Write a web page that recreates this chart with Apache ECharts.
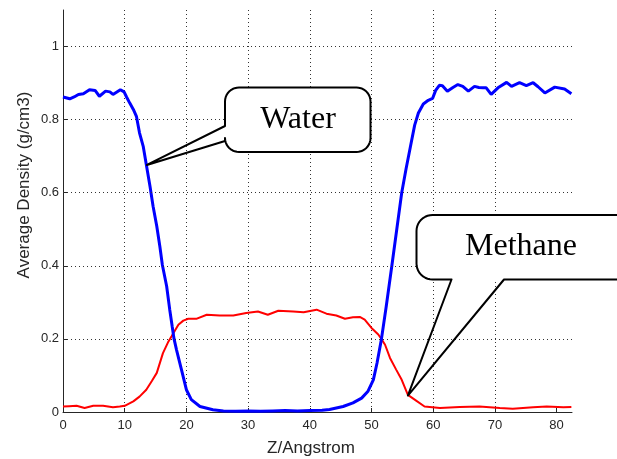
<!DOCTYPE html>
<html>
<head>
<meta charset="utf-8">
<script src="https://cdn.jsdelivr.net/npm/echarts@6/dist/echarts.min.js"></script>
<style>html,body{margin:0;padding:0;background:#fff;}#c{width:617px;height:459px;}</style>
</head>
<body>
<div id="c"></div>
<script>
// ---- data ----
const waterX = [0,0.3,1.1,1.8,2.5,3.3,4.3,5.2,5.9,6.9,7.6,8.1,9.3,9.9,10.3,10.8,11.4,11.9,12.4,13.0,13.5,14.1,14.6,15.2,15.7,16.1,16.8,17.3,17.7,18.0,18.4,19.2,20.0,20.8,22.2,24.3,26,28,30,32,34,36,38,40,42,43.2,45.4,47.0,48.4,49.4,50.3,50.9,51.6,52.4,53.3,54.1,54.9,55.6,56.3,57.0,57.6,58.4,59.2,59.9,60.4,61.0,61.5,62.3,63.2,64.0,64.8,65.7,66.7,67.4,68.1,68.6,69.4,70.5,71.9,72.7,74.0,75.1,76.2,77.0,78.1,79.7,81.3,82.4];
const waterY = [0.862,0.864,0.857,0.862,0.869,0.871,0.882,0.880,0.864,0.878,0.876,0.869,0.882,0.876,0.862,0.846,0.828,0.809,0.764,0.727,0.677,0.618,0.563,0.508,0.453,0.403,0.344,0.280,0.234,0.200,0.170,0.116,0.061,0.034,0.015,0.006,0.003,0.002,0.003,0.002,0.003,0.004,0.003,0.004,0.005,0.007,0.015,0.025,0.038,0.056,0.088,0.134,0.198,0.290,0.400,0.500,0.600,0.665,0.725,0.785,0.818,0.843,0.853,0.858,0.880,0.894,0.893,0.878,0.888,0.896,0.891,0.878,0.891,0.888,0.887,0.887,0.869,0.887,0.902,0.891,0.901,0.893,0.901,0.890,0.873,0.889,0.884,0.871];
const methaneX = [0,1,2.2,3.5,4.9,6.5,8.1,9.2,10.0,11.4,12.4,13.5,14.4,15.2,16.2,17.0,17.6,18.7,19.5,20.3,21.6,23.3,25.4,27.6,29.7,31.6,33.2,34.9,37.3,39.0,41.1,42.7,44.3,45.7,47.0,48.1,48.9,50.0,51.1,51.6,52.2,53.0,54.0,54.9,55.9,57.0,58.6,61.1,64.3,67.5,70.8,72.9,76.2,78.4,81.1,82.4];
const methaneY = [0.015,0.016,0.017,0.011,0.017,0.017,0.013,0.015,0.017,0.029,0.042,0.061,0.085,0.107,0.161,0.190,0.207,0.239,0.250,0.255,0.255,0.266,0.264,0.264,0.271,0.275,0.266,0.277,0.275,0.273,0.280,0.269,0.264,0.255,0.259,0.260,0.253,0.230,0.212,0.200,0.184,0.148,0.116,0.088,0.047,0.034,0.015,0.011,0.014,0.015,0.011,0.009,0.013,0.015,0.013,0.014];
const xTicks = [0,10,20,30,40,50,60,70,80];
const yTicks = [0,0.2,0.4,0.6,0.8,1];
const xName = 'Z/Angstrom';
const yName = 'Average Density (g/cm3)';
const waterLabel = 'Water';
const methaneLabel = 'Methane';
const waterTip = [13.6, 0.676];
const methaneTip = [55.9, 0.045];

const zip = (xs, ys) => xs.map((x, i) => [x, ys[i]]);
const chart = echarts.init(document.getElementById('c'), null, {renderer: 'canvas'});
const axisCol = '#262626';
const lab = {color: '#262626', fontSize: 13, fontFamily: 'Liberation Sans, Arial, sans-serif'};
chart.setOption({
  animation: false,
  backgroundColor: '#fff',
  grid: {left: 63, top: 10, right: 45, bottom: 47, containLabel: false},
  xAxis: {
    type: 'value', min: 0, max: 82.5, interval: 10,
    axisLine: {show: true, lineStyle: {color: axisCol, width: 1}},
    axisTick: {show: true, inside: true, length: 4, customValues: xTicks, lineStyle: {color: axisCol}},
    axisLabel: Object.assign({margin: 7, customValues: xTicks}, lab),
    splitLine: {show: true, showMinLine: false, showMaxLine: false, lineStyle: {color: '#333', type: [1, 3], width: 1}}
  },
  yAxis: {
    type: 'value', min: 0, max: 1.1, interval: 0.1,
    axisLine: {show: true, lineStyle: {color: axisCol, width: 1}},
    axisTick: {show: true, inside: true, length: 4, customValues: yTicks, lineStyle: {color: axisCol}},
    axisLabel: Object.assign({margin: 4, customValues: yTicks}, lab),
    splitLine: {show: false}
  },
  series: [
    {type: 'line', name: 'Water', data: zip(waterX, waterY), showSymbol: false, symbol: 'none',
     lineStyle: {color: '#0000ff', width: 3}, itemStyle: {color: '#0000ff'}, z: 3},
    {type: 'line', name: 'Methane', data: zip(methaneX, methaneY), showSymbol: false, symbol: 'none',
     lineStyle: {color: '#ff0000', width: 2}, itemStyle: {color: '#ff0000'}, z: 2},
    // horizontal dotted grid lines at the labelled y ticks
    {type: 'line', data: [], markLine: {silent: true, symbol: 'none', label: {show: false},
      lineStyle: {color: '#333', type: [1, 3], width: 1},
      data: yTicks.filter(v => v > 0).map(v => ({yAxis: v}))}, z: 1}
  ]
});

// ---- callouts ----
function callout(x0, y0, x1, y1, r, tip, leftWedge, bottomWedge) {
  const pts = [];
  const arc = (cx, cy, a0, a1) => {
    for (let i = 0; i <= 10; i++) {
      const a = (a0 + (a1 - a0) * i / 10) * Math.PI / 180;
      pts.push([cx + r * Math.cos(a), cy + r * Math.sin(a)]);
    }
  };
  arc(x0 + r, y0 + r, 180, 270);
  arc(x1 - r, y0 + r, 270, 360);
  arc(x1 - r, y1 - r, 0, 90);
  if (bottomWedge) { pts.push([bottomWedge[1], y1], tip, [bottomWedge[0], y1]); }
  arc(x0 + r, y1 - r, 90, 180);
  if (leftWedge) { pts.push([x0, leftWedge[1]], tip, [x0, leftWedge[0]]); }
  return [
    {type: 'rect', z: 100, shape: {x: x0, y: y0, width: x1 - x0, height: y1 - y0, r: r}, style: {fill: '#fff', stroke: null}},
    {type: 'polygon', z: 101, shape: {points: pts}, style: {fill: null, stroke: '#000', lineWidth: 2, lineJoin: 'round'}}
  ];
}
const wt = chart.convertToPixel({gridIndex: 0}, waterTip);
const mt = chart.convertToPixel({gridIndex: 0}, methaneTip);
const els = [];
els.push(...callout(225, 87.5, 370.5, 152, 14, wt, [126, 141], null));
els.push(...callout(416.5, 215, 660, 279.5, 16, mt, null, [451.5, 504]));
els.push({type: 'text', z: 102, x: 298, y: 120, style: {text: waterLabel, fill: '#000', fontSize: 32, fontFamily: 'Liberation Serif, Times New Roman, serif', align: 'center', verticalAlign: 'middle'}});
els.push({type: 'text', z: 102, x: 521, y: 247, style: {text: methaneLabel, fill: '#000', fontSize: 32, fontFamily: 'Liberation Serif, Times New Roman, serif', align: 'center', verticalAlign: 'middle'}});
els.push({type: 'text', z: 102, x: 311, y: 448, style: {text: xName, fill: '#262626', fontSize: 17, fontFamily: 'Liberation Sans, Arial, sans-serif', align: 'center', verticalAlign: 'middle'}});
els.push({type: 'text', z: 102, x: 24, y: 185, rotation: Math.PI / 2, style: {text: yName, fill: '#262626', fontSize: 17, fontFamily: 'Liberation Sans, Arial, sans-serif', align: 'center', verticalAlign: 'middle'}});
chart.setOption({graphic: {elements: els}});
</script>
</body>
</html>
